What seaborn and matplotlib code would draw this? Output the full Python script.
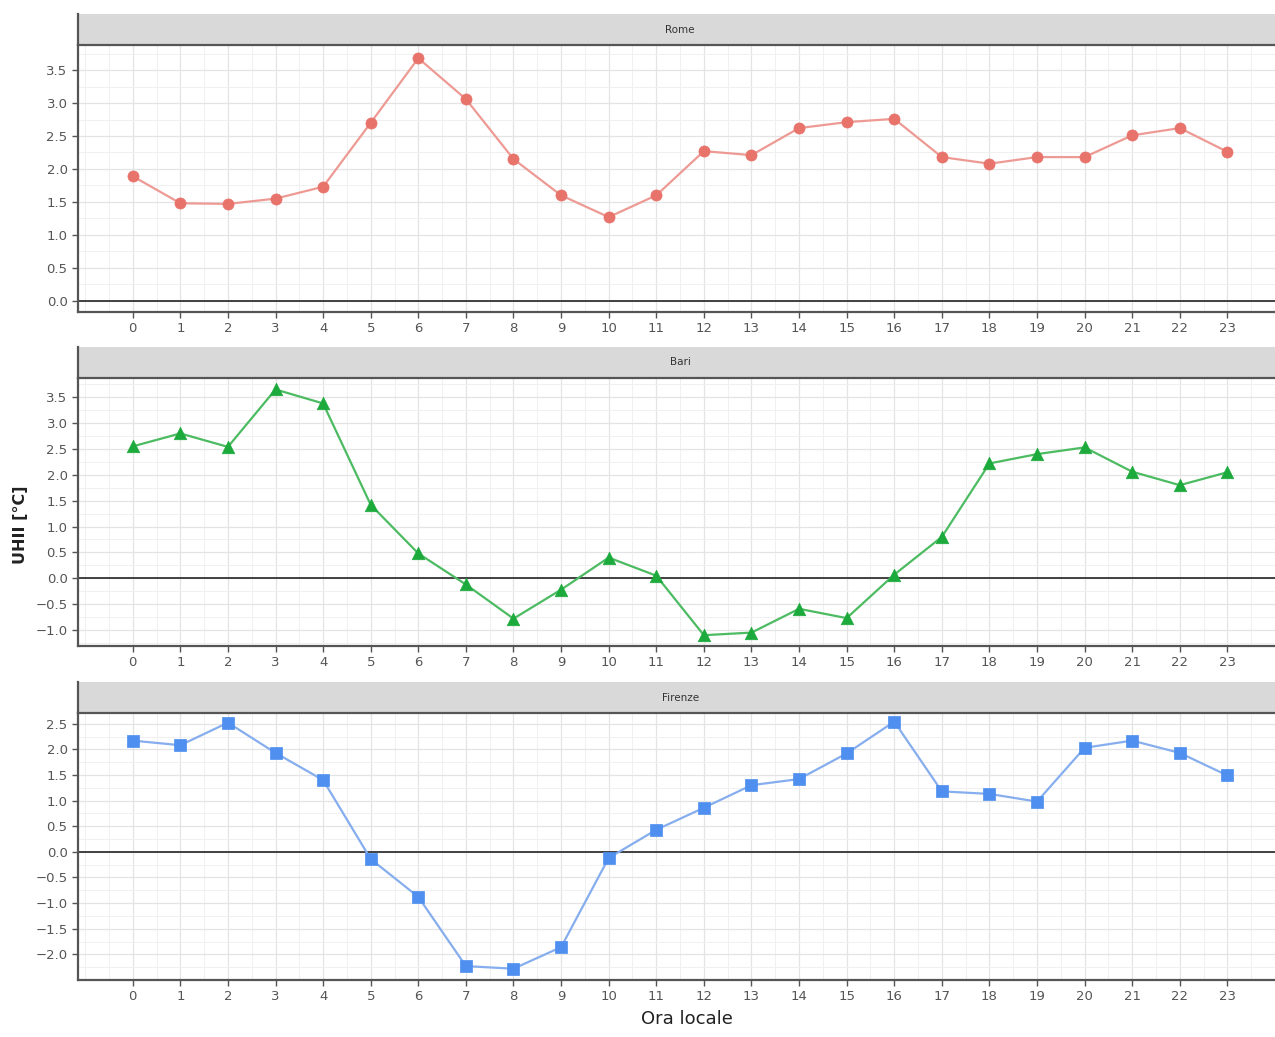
import seaborn as sns
import pandas as pd
import numpy as np
import matplotlib.pyplot as plt
from matplotlib.ticker import MultipleLocator

hours = list(range(24))
rome = [1.89, 1.48, 1.47, 1.55, 1.73, 2.70, 3.68, 3.06, 2.15, 1.60, 1.27, 1.60,
        2.27, 2.21, 2.62, 2.71, 2.76, 2.18, 2.08, 2.18, 2.18, 2.51, 2.62, 2.26]
bari = [2.55, 2.80, 2.54, 3.65, 3.38, 1.42, 0.48, -0.12, -0.78, -0.22, 0.40, 0.05,
        -1.10, -1.05, -0.59, -0.77, 0.07, 0.80, 2.22, 2.40, 2.53, 2.06, 1.80, 2.05]
firenze = [2.17, 2.08, 2.52, 1.93, 1.40, -0.14, -0.88, -2.23, -2.28, -1.86, -0.12, 0.43,
           0.86, 1.30, 1.42, 1.92, 2.54, 1.18, 1.13, 0.98, 2.03, 2.17, 1.93, 1.49]

cities = ["Rome", "Bari", "Firenze"]
colors = {"Rome": "#E8736B", "Bari": "#1DAA3C", "Firenze": "#4F8FEF"}
line_colors = {"Rome": "#EE9A94", "Bari": "#4CBB62", "Firenze": "#86AEEE"}
markers = {"Rome": "o", "Bari": "^", "Firenze": "s"}
msize = {"Rome": 8, "Bari": 9, "Firenze": 8.5}

df = pd.DataFrame({
    "hour": hours * 3,
    "uhii": rome + bari + firenze,
    "city": np.repeat(cities, 24),
})

ylims = {"Rome": (-0.17, 3.88), "Bari": (-1.31, 3.87), "Firenze": (-2.5, 2.71)}
yticks = {"Rome": np.arange(0, 3.51, 0.5), "Bari": np.arange(-1.0, 3.51, 0.5),
          "Firenze": np.arange(-2.0, 2.51, 0.5)}

sns.set_theme(style="white")
plt.rcParams['font.family'] = ['DejaVu Sans']

fig = plt.figure(figsize=(12.75, 10.37), dpi=100)

# panel geometry in figure fractions: strip bottom, panel bottom, panel height
panels = {"Rome": (0.9566, 0.6991, 0.2575),
          "Bari": (0.6355, 0.3770, 0.2584),
          "Firenze": (0.3124, 0.0550, 0.2575)}
left, width = 78 / 1275, 1 - 78 / 1275
tick_col = "#555555"

for city in cities:
    s_bottom, p_bottom, p_h = panels[city]
    ax = fig.add_axes([left, p_bottom, width, p_h])
    sub = df[df.city == city]
    sns.lineplot(data=sub, x="hour", y="uhii", ax=ax, color=line_colors[city],
                 linewidth=1.6, zorder=3)
    sns.scatterplot(data=sub, x="hour", y="uhii", ax=ax, color=colors[city],
                    marker=markers[city], s=msize[city] ** 2, edgecolor=colors[city],
                    linewidth=0.5, zorder=4)
    ax.axhline(0, color="#333333", linewidth=1.3, zorder=2)
    ax.set_xlim(-1.15, 24.0)
    ax.set_ylim(*ylims[city])
    ax.set_xticks(hours)
    ax.set_yticks(yticks[city])
    ax.set_yticklabels([f"{v:.1f}".replace("-", "\u2212") for v in yticks[city]])
    ax.xaxis.set_minor_locator(MultipleLocator(0.5))
    ax.yaxis.set_minor_locator(MultipleLocator(0.25))
    ax.grid(which="major", color="#E4E4E4", linewidth=0.9)
    ax.grid(which="minor", color="#F0F0F0", linewidth=0.7)
    ax.set_axisbelow(True)
    ax.set_xlabel("")
    ax.set_ylabel("")
    for sp in ["top", "right"]:
        ax.spines[sp].set_visible(False)
    for sp in ["left", "bottom"]:
        ax.spines[sp].set_color("#555555")
        ax.spines[sp].set_linewidth(1.6)
    ax.tick_params(axis="both", which="major", labelsize=9.5, labelcolor=tick_col,
                   color="#555555", length=4, width=1, left=True, bottom=True)
    ax.tick_params(which="minor", length=0)

    sax = fig.add_axes([left, s_bottom, width, 0.0299])
    sax.set_facecolor("#D9D9D9")
    sax.set_xticks([])
    sax.set_yticks([])
    for sp in ["top", "right"]:
        sax.spines[sp].set_visible(False)
    sax.spines["bottom"].set_color("#555555")
    sax.spines["bottom"].set_linewidth(1.6)
    sax.spines["left"].set_color("#555555")
    sax.spines["left"].set_linewidth(1.6)
    sax.text(0.503, 0.5, city, ha="center", va="center", fontsize=7.5,
             color="#333333", transform=sax.transAxes)

fig.text(0.016, 0.494, "UHII [°C]", rotation=90, ha="center", va="center",
         fontsize=11.5, color="#222222", fontweight="semibold")
fig.text(0.539, 0.009, "Ora locale", ha="center", va="bottom", fontsize=13,
         color="#222222")

fig.savefig("out.png", dpi=100, facecolor="white")
